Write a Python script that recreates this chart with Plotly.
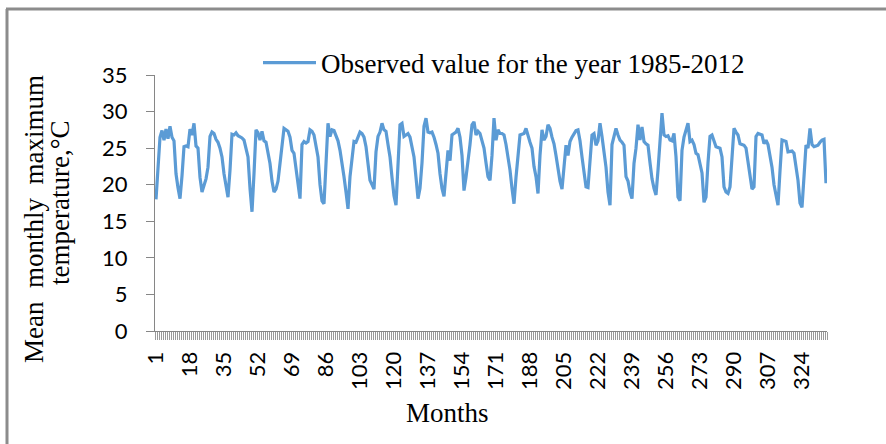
import plotly.graph_objects as go

# Mean monthly maximum temperature (deg C), Jan 1985 .. Dec 2012, one list per year
y1985 = [18.0, 22.0, 26.5, 27.4, 26.1, 27.6, 26.3, 28.0, 26.5, 26.0, 21.5, 19.6]
y1986 = [18.1, 21.2, 25.2, 25.3, 25.2, 27.6, 26.8, 28.4, 25.3, 25.0, 21.0, 19.0]
y1987 = [20.0, 20.8, 22.4, 26.6, 27.2, 27.0, 26.2, 25.8, 25.0, 23.8, 21.5, 19.5]
y1988 = [18.3, 22.0, 26.9, 26.8, 27.1, 26.7, 26.6, 26.4, 26.1, 25.0, 23.8, 19.5]
y1989 = [16.3, 21.5, 27.5, 27.1, 26.1, 27.3, 26.0, 25.8, 24.5, 22.9, 20.5, 19.0]
y1990 = [19.4, 20.5, 22.9, 25.5, 27.7, 27.5, 27.3, 26.5, 24.7, 24.3, 22.0, 19.5]
y1991 = [18.1, 25.5, 25.9, 25.7, 25.9, 27.5, 27.3, 26.8, 25.0, 23.8, 20.0, 17.8]
y1992 = [17.4, 22.8, 28.4, 26.6, 27.5, 27.4, 26.6, 26.0, 24.7, 22.5, 21.1, 19.0]
y1993 = [16.7, 21.1, 24.0, 25.9, 25.8, 26.5, 27.2, 27.0, 26.5, 25.2, 22.5, 20.6]
y1994 = [20.0, 19.4, 24.5, 26.6, 27.2, 28.4, 27.5, 27.3, 25.5, 23.8, 21.0, 18.5]
y1995 = [17.2, 24.0, 28.2, 28.4, 26.6, 26.8, 27.0, 26.5, 25.0, 23.8, 21.0, 18.1]
y1996 = [19.5, 23.0, 28.0, 29.1, 27.2, 27.1, 27.2, 26.5, 25.5, 24.3, 21.5, 19.5]
y1997 = [18.4, 22.0, 24.7, 23.3, 26.8, 27.0, 27.2, 27.7, 26.5, 24.0, 19.2, 21.0]
y1998 = [23.8, 25.5, 28.2, 28.6, 26.8, 27.3, 27.0, 26.1, 25.0, 23.0, 21.1, 20.6]
y1999 = [24.0, 29.1, 26.1, 27.5, 27.0, 27.0, 26.8, 25.5, 23.8, 22.0, 19.5, 17.4]
y2000 = [21.0, 23.5, 26.8, 26.9, 27.0, 27.7, 26.6, 25.8, 25.0, 22.5, 21.1, 18.8]
y2001 = [24.0, 27.5, 26.1, 26.6, 28.2, 27.7, 26.5, 25.6, 24.0, 22.0, 20.5, 19.4]
y2002 = [22.0, 25.4, 24.0, 25.9, 26.5, 27.0, 27.4, 27.5, 26.0, 23.8, 21.5, 19.7]
y2003 = [19.6, 23.5, 26.8, 27.0, 25.4, 26.0, 28.4, 26.6, 24.8, 22.4, 19.0, 17.2]
y2004 = [25.5, 26.8, 27.7, 26.8, 26.1, 25.8, 25.4, 21.1, 20.5, 19.0, 18.1, 22.9]
y2005 = [25.0, 28.2, 26.1, 27.9, 25.9, 25.6, 25.4, 23.0, 20.8, 19.5, 18.6, 22.0]
y2006 = [25.5, 29.8, 26.8, 26.6, 26.7, 26.1, 26.0, 27.0, 23.8, 18.3, 17.8, 24.7]
y2007 = [26.5, 27.5, 28.4, 25.9, 26.1, 25.5, 24.3, 24.1, 23.0, 21.6, 17.6, 18.3]
y2008 = [23.0, 26.6, 26.8, 25.8, 25.2, 25.1, 25.0, 23.8, 19.7, 19.0, 18.8, 19.7]
y2009 = [23.5, 27.7, 27.2, 26.8, 25.6, 25.5, 25.4, 25.0, 22.9, 21.0, 19.4, 19.7]
y2010 = [26.6, 27.0, 26.9, 26.8, 25.6, 26.1, 25.5, 23.8, 22.4, 20.0, 18.5, 17.2]
y2011 = [21.9, 26.1, 26.0, 25.9, 24.5, 24.5, 24.6, 24.3, 22.5, 20.6, 17.5, 16.9]
y2012 = [21.1, 25.4, 25.0, 27.7, 25.5, 25.2, 25.3, 25.4, 25.8, 26.1, 26.2, 20.2]

years = [y1985, y1986, y1987, y1988, y1989, y1990, y1991, y1992, y1993, y1994,
         y1995, y1996, y1997, y1998, y1999, y2000, y2001, y2002, y2003, y2004,
         y2005, y2006, y2007, y2008, y2009, y2010, y2011, y2012]
tmax = [v for yr in years for v in yr]
months = list(range(1, len(tmax) + 1))

x_tick_vals = [1, 18, 35, 52, 69, 86, 103, 120, 137, 154, 171, 188, 205, 222, 239, 256, 273, 290, 307, 324]
x_tick_text = ["1", "18", "35", "52", "69", "86", "103", "120", "137", "154", "171", "188",
               "205", "222", "239", "256", "273", "290", "307", "324"]
y_tick_vals = [0, 5, 10, 15, 20, 25, 30, 35]

series_name = "Observed value for the year 1985-2012"

L, R, T, B = 155, 59, 75, 113
W, H = 886, 444
pw, ph = W - L - R, H - T - B

def px(x):
    return (x - L) / pw

def py(y):
    return (H - B - y) / ph

fig = go.Figure()
fig.add_trace(go.Scatter(
    x=months, y=tmax, mode="lines", name=series_name,
    line=dict(color="#5B9BD5", width=3.2),
))

serif = "Liberation Serif"
sans = "Lato"
axis_col = "#868686"
nb = "\u00a0"

fig.update_layout(
    width=W, height=H,
    margin=dict(l=L, r=R, t=T, b=B),
    paper_bgcolor="white", plot_bgcolor="white",
    showlegend=True,
    legend=dict(
        x=px(258), y=py(63), xanchor="left", yanchor="middle",
        orientation="h", itemwidth=53,
        font=dict(family=serif, size=27, color="black"),
        bgcolor="rgba(0,0,0,0)",
    ),
    xaxis=dict(
        range=[0.5, len(tmax) + 0.5],
        tickmode="array", tickvals=x_tick_vals, ticktext=x_tick_text,
        tickangle=-90, ticks="", ticklabelstandoff=11,
        tickfont=dict(family=sans, size=22, color="black"),
        showline=True, linecolor=axis_col, linewidth=1,
        showgrid=False, zeroline=False,
        minor=dict(ticks="outside", ticklen=8, tick0=0.5, dtick=1,
                   tickcolor="#9a9a9a", tickwidth=1, showgrid=False),
    ),
    yaxis=dict(
        range=[0, 35], tickmode="array", tickvals=y_tick_vals,
        ticks="outside", ticklen=8, tickcolor=axis_col,
        tickfont=dict(family=sans, size=22, color="black"),
        ticklabelstandoff=14,
        showline=True, linecolor=axis_col, linewidth=1,
        showgrid=False, zeroline=False,
    ),
    annotations=[
        dict(text="Mean" + nb * 2 + "monthly" + nb * 2 + "maximum", xref="paper", yref="paper",
             x=px(34), y=py(219), xanchor="center", yanchor="middle",
             textangle=-90, showarrow=False,
             font=dict(family=serif, size=27, color="black")),
        dict(text="temperature,°C", xref="paper", yref="paper",
             x=px(60), y=py(203), xanchor="center", yanchor="middle",
             textangle=-90, showarrow=False,
             font=dict(family=serif, size=27, color="black")),
        dict(text="Months", xref="paper", yref="paper",
             x=px(447), y=py(413), xanchor="center", yanchor="middle",
             showarrow=False,
             font=dict(family=serif, size=27, color="black")),
    ],
    shapes=[
        dict(type="line", xref="paper", yref="paper",
             x0=px(7), y0=py(9), x1=px(7), y1=py(450),
             line=dict(color="#8c8c8c", width=3)),
        dict(type="line", xref="paper", yref="paper",
             x0=px(6), y0=py(9), x1=px(892), y1=py(9),
             line=dict(color="#8c8c8c", width=3)),
    ],
)

fig.write_html("out.html", config={"displayModeBar": False},
               post_script="document.body.style.margin='0';")
